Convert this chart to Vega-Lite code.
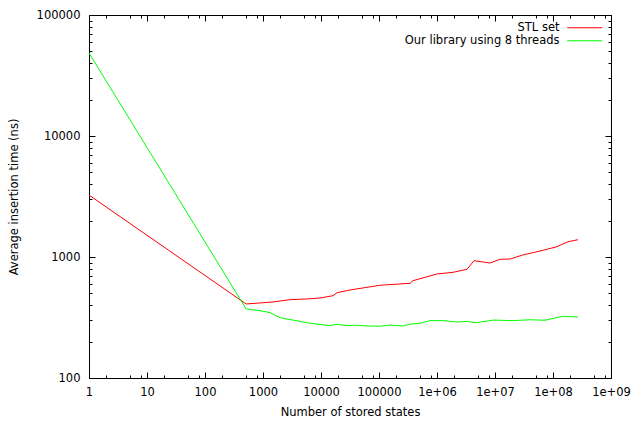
{
  "$schema": "https://vega.github.io/schema/vega-lite/v6.json",
  "width": 522,
  "height": 363,
  "autosize": {"type": "none"},
  "padding": {"left": 89, "top": 15, "right": 26, "bottom": 43},
  "background": "white",
  "config": {
    "view": {"stroke": "#000", "strokeWidth": 1},
    "font": "DejaVu Sans",
    "axis": {"labelFont": "DejaVu Sans", "titleFont": "DejaVu Sans", "labelFontSize": 11.5, "titleFontSize": 11.5, "titleFontWeight": "normal", "labelColor": "#000", "titleColor": "#000", "tickColor": "#000", "grid": false, "domain": false}
  },
  "data": {"values": [
    {"series": "STL set", "n": 1, "t": 3250},
    {"series": "STL set", "n": 512, "t": 409},
    {"series": "STL set", "n": 1487, "t": 425},
    {"series": "STL set", "n": 2922, "t": 444},
    {"series": "STL set", "n": 5737, "t": 450},
    {"series": "STL set", "n": 9610, "t": 458},
    {"series": "STL set", "n": 16100, "t": 479},
    {"series": "STL set", "n": 18880, "t": 507},
    {"series": "STL set", "n": 31620, "t": 534},
    {"series": "STL set", "n": 52970, "t": 555},
    {"series": "STL set", "n": 104000, "t": 584},
    {"series": "STL set", "n": 342000, "t": 606},
    {"series": "STL set", "n": 385000, "t": 637},
    {"series": "STL set", "n": 672000, "t": 687},
    {"series": "STL set", "n": 1000000, "t": 724},
    {"series": "STL set", "n": 1890000, "t": 747},
    {"series": "STL set", "n": 3290000, "t": 791},
    {"series": "STL set", "n": 4350000, "t": 932},
    {"series": "STL set", "n": 7570000, "t": 897},
    {"series": "STL set", "n": 8200000, "t": 892},
    {"series": "STL set", "n": 12200000, "t": 957},
    {"series": "STL set", "n": 18200000, "t": 962},
    {"series": "STL set", "n": 30400000, "t": 1040},
    {"series": "STL set", "n": 45200000, "t": 1086},
    {"series": "STL set", "n": 78800000, "t": 1158},
    {"series": "STL set", "n": 117000000, "t": 1217},
    {"series": "STL set", "n": 181000000, "t": 1337},
    {"series": "STL set", "n": 270000000, "t": 1390},
    {"series": "Our library using 8 threads", "n": 1, "t": 48500},
    {"series": "Our library using 8 threads", "n": 512, "t": 372},
    {"series": "Our library using 8 threads", "n": 888, "t": 360},
    {"series": "Our library using 8 threads", "n": 1321, "t": 347},
    {"series": "Our library using 8 threads", "n": 1964, "t": 315},
    {"series": "Our library using 8 threads", "n": 3290, "t": 301},
    {"series": "Our library using 8 threads", "n": 4700, "t": 292},
    {"series": "Our library using 8 threads", "n": 5737, "t": 286},
    {"series": "Our library using 8 threads", "n": 8540, "t": 279},
    {"series": "Our library using 8 threads", "n": 14290, "t": 271},
    {"series": "Our library using 8 threads", "n": 18880, "t": 278},
    {"series": "Our library using 8 threads", "n": 28050, "t": 271},
    {"series": "Our library using 8 threads", "n": 38550, "t": 273},
    {"series": "Our library using 8 threads", "n": 64600, "t": 269},
    {"series": "Our library using 8 threads", "n": 104000, "t": 268},
    {"series": "Our library using 8 threads", "n": 155000, "t": 274},
    {"series": "Our library using 8 threads", "n": 259000, "t": 269},
    {"series": "Our library using 8 threads", "n": 342000, "t": 279},
    {"series": "Our library using 8 threads", "n": 509000, "t": 283},
    {"series": "Our library using 8 threads", "n": 757000, "t": 298},
    {"series": "Our library using 8 threads", "n": 1270000, "t": 298},
    {"series": "Our library using 8 threads", "n": 2210000, "t": 290},
    {"series": "Our library using 8 threads", "n": 3290000, "t": 294},
    {"series": "Our library using 8 threads", "n": 4520000, "t": 286},
    {"series": "Our library using 8 threads", "n": 7570000, "t": 296},
    {"series": "Our library using 8 threads", "n": 9240000, "t": 301},
    {"series": "Our library using 8 threads", "n": 20400000, "t": 298},
    {"series": "Our library using 8 threads", "n": 40100000, "t": 303},
    {"series": "Our library using 8 threads", "n": 72800000, "t": 300},
    {"series": "Our library using 8 threads", "n": 149000000, "t": 324},
    {"series": "Our library using 8 threads", "n": 270000000, "t": 319}
  ]},
  "layer": [
    {
      "mark": {"type": "line", "strokeWidth": 1},
      "encoding": {
        "x": {"field": "n", "type": "quantitative",
          "scale": {"type": "log", "domain": [1, 1000000000], "nice": false},
          "axis": {"title": "Number of stored states", "orient": "bottom",
            "values": [1,2,5,8,10,20,50,80,100,200,500,800,1000,2000,5000,8000,10000,20000,50000,80000,100000,200000,500000,800000,1000000,2000000,5000000,8000000,10000000,20000000,50000000,80000000,100000000,200000000,500000000,800000000,1000000000],
            "labelExpr": "abs(log(datum.value)/LN10 - round(log(datum.value)/LN10)) > 0.001 ? '' : (datum.value >= 1000000 ? '1e+0' + round(log(datum.value)/LN10) : format(datum.value, 'd'))",
            "tickSize": {"condition": {"test": "abs(log(datum.value)/LN10 - round(log(datum.value)/LN10)) < 0.001", "value": -6}, "value": -3},
            "labelPadding": 14, "titlePadding": 9, "labelFlush": false}},
        "y": {"field": "t", "type": "quantitative",
          "scale": {"type": "log", "domain": [100, 100000], "nice": false},
          "axis": {"title": "Average insertion time (ns)", "orient": "left",
            "values": [100,200,300,400,500,600,700,800,900,1000,2000,3000,4000,5000,6000,7000,8000,9000,10000,20000,30000,40000,50000,60000,70000,80000,90000,100000],
            "labelExpr": "abs(log(datum.value)/LN10 - round(log(datum.value)/LN10)) > 0.001 ? '' : format(datum.value, 'd')",
            "tickSize": {"condition": {"test": "abs(log(datum.value)/LN10 - round(log(datum.value)/LN10)) < 0.001", "value": -6}, "value": -3},
            "labelPadding": 15, "titlePadding": 17}},
        "color": {"field": "series", "type": "nominal",
          "scale": {"domain": ["STL set", "Our library using 8 threads"], "range": ["#ff0000", "#00ff00"]},
          "legend": {"title": null, "orient": "none", "legendX": 490, "legendY": 7, "padding": 0,
            "symbolType": "M-5,0H5", "symbolSize": 49, "symbolStrokeWidth": 1,
            "labelAlign": "right", "labelOffset": -31, "labelFontSize": 11.5, "labelFont": "DejaVu Sans", "labelColor": "#000", "rowPadding": 0}}
      }
    },
    {
      "mark": {"type": "line", "opacity": 0},
      "encoding": {
        "x": {"field": "n", "type": "quantitative",
          "axis": {"title": null, "orient": "top", "labels": false,
            "values": [1,2,5,8,10,20,50,80,100,200,500,800,1000,2000,5000,8000,10000,20000,50000,80000,100000,200000,500000,800000,1000000,2000000,5000000,8000000,10000000,20000000,50000000,80000000,100000000,200000000,500000000,800000000,1000000000],
            "tickSize": {"condition": {"test": "abs(log(datum.value)/LN10 - round(log(datum.value)/LN10)) < 0.001", "value": -6}, "value": -3}}},
        "y": {"field": "t", "type": "quantitative",
          "axis": {"title": null, "orient": "right", "labels": false,
            "values": [100,200,300,400,500,600,700,800,900,1000,2000,3000,4000,5000,6000,7000,8000,9000,10000,20000,30000,40000,50000,60000,70000,80000,90000,100000],
            "tickSize": {"condition": {"test": "abs(log(datum.value)/LN10 - round(log(datum.value)/LN10)) < 0.001", "value": -6}, "value": -3}}},
        "detail": {"field": "series", "type": "nominal"}
      }
    }
  ],
  "resolve": {"axis": {"x": "independent", "y": "independent"}}
}
